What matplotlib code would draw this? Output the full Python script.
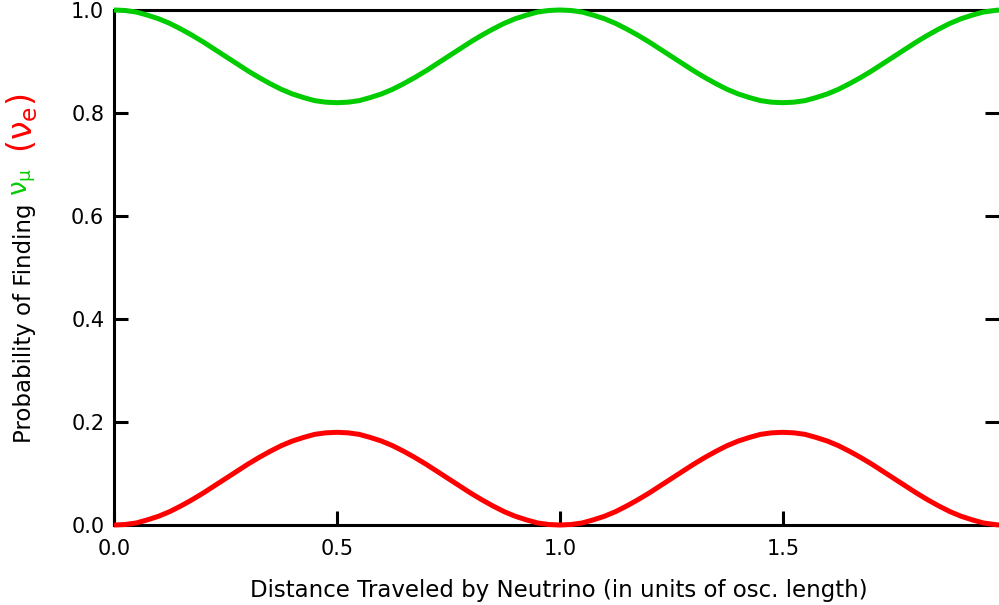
import matplotlib
matplotlib.use("Agg")
import matplotlib.pyplot as plt

# Distance travelled (units of oscillation length), sampled every 0.025
distance = [0.000, 0.025, 0.050, 0.075, 0.100, 0.125, 0.150, 0.175, 0.200, 0.225,
            0.250, 0.275, 0.300, 0.325, 0.350, 0.375, 0.400, 0.425, 0.450, 0.475,
            0.500, 0.525, 0.550, 0.575, 0.600, 0.625, 0.650, 0.675, 0.700, 0.725,
            0.750, 0.775, 0.800, 0.825, 0.850, 0.875, 0.900, 0.925, 0.950, 0.975,
            1.000, 1.025, 1.050, 1.075, 1.100, 1.125, 1.150, 1.175, 1.200, 1.225,
            1.250, 1.275, 1.300, 1.325, 1.350, 1.375, 1.400, 1.425, 1.450, 1.475,
            1.500, 1.525, 1.550, 1.575, 1.600, 1.625, 1.650, 1.675, 1.700, 1.725,
            1.750, 1.775, 1.800, 1.825, 1.850, 1.875, 1.900, 1.925, 1.950, 1.975, 1.985]
# probability of finding nu_e (red curve)
prob_e = [0.000, 0.001, 0.004, 0.010, 0.017, 0.026, 0.037, 0.049, 0.062, 0.076,
          0.090, 0.104, 0.118, 0.131, 0.143, 0.154, 0.163, 0.170, 0.176, 0.179,
          0.180, 0.179, 0.176, 0.170, 0.163, 0.154, 0.143, 0.131, 0.118, 0.104,
          0.090, 0.076, 0.062, 0.049, 0.037, 0.026, 0.017, 0.010, 0.004, 0.001,
          0.000, 0.001, 0.004, 0.010, 0.017, 0.026, 0.037, 0.049, 0.062, 0.076,
          0.090, 0.104, 0.118, 0.131, 0.143, 0.154, 0.163, 0.170, 0.176, 0.179,
          0.180, 0.179, 0.176, 0.170, 0.163, 0.154, 0.143, 0.131, 0.118, 0.104,
          0.090, 0.076, 0.062, 0.049, 0.037, 0.026, 0.017, 0.010, 0.004, 0.001, 0.000]
# probability of finding nu_mu (green curve)
prob_mu = [1.000, 0.999, 0.996, 0.990, 0.983, 0.974, 0.963, 0.951, 0.938, 0.924,
           0.910, 0.896, 0.882, 0.869, 0.857, 0.846, 0.837, 0.830, 0.824, 0.821,
           0.820, 0.821, 0.824, 0.830, 0.837, 0.846, 0.857, 0.869, 0.882, 0.896,
           0.910, 0.924, 0.938, 0.951, 0.963, 0.974, 0.983, 0.990, 0.996, 0.999,
           1.000, 0.999, 0.996, 0.990, 0.983, 0.974, 0.963, 0.951, 0.938, 0.924,
           0.910, 0.896, 0.882, 0.869, 0.857, 0.846, 0.837, 0.830, 0.824, 0.821,
           0.820, 0.821, 0.824, 0.830, 0.837, 0.846, 0.857, 0.869, 0.882, 0.896,
           0.910, 0.924, 0.938, 0.951, 0.963, 0.974, 0.983, 0.990, 0.996, 0.999, 1.000]

x_ticks = [0.0, 0.5, 1.0, 1.5]
x_ticklabels = ["0.0", "0.5", "1.0", "1.5"]
y_ticks = [0.0, 0.2, 0.4, 0.6, 0.8, 1.0]
y_ticklabels = ["0.0", "0.2", "0.4", "0.6", "0.8", "1.0"]

GREEN = "#00CC00"
RED = "#FF0000"

plt.rcParams["font.family"] = ["DejaVu Sans"]
plt.rcParams["mathtext.fontset"] = "dejavusans"

fig = plt.figure(figsize=(9.99, 6.05), dpi=100)
ax = fig.add_axes([0.1141, 0.1322, 0.8859, 0.8513])

ax.plot(distance, prob_mu, color=GREEN, lw=3.6, solid_capstyle="butt",
        solid_joinstyle="round", clip_on=False, zorder=3)
ax.plot(distance, prob_e, color=RED, lw=3.6, solid_capstyle="butt",
        solid_joinstyle="round", clip_on=False, zorder=3)

ax.set_xlim(0, 1.985)
ax.set_ylim(0, 1.0)

for side in ["left", "bottom", "top"]:
    ax.spines[side].set_linewidth(2.2)
    ax.spines[side].set_color("black")
ax.spines["right"].set_visible(False)

ax.set_xticks(x_ticks)
ax.set_xticklabels(x_ticklabels)
ax.set_yticks(y_ticks)
ax.set_yticklabels(y_ticklabels)
ax.tick_params(axis="x", direction="in", length=10, width=2.2, labelsize=15, pad=10,
               top=False)
ax.tick_params(axis="y", direction="in", length=10, width=2.2, labelsize=15, pad=7,
               right=True)

W, H = fig.get_size_inches() * fig.dpi

fig.text(559 / W, (605 - 597) / H,
         "Distance Traveled by Neutrino (in units of osc. length)",
         fontsize=16.5, ha="center", va="baseline")

# composite, multi-coloured y label
fig.canvas.draw()
renderer = fig.canvas.get_renderer()
x_base = 30.5 / W
y_cur = (605 - 443) / H
pieces = [("Probability of Finding ", "black", 16.5, 30.5),
          (r"$\mathregular{\nu_{\mu}}$", GREEN, 19, 27.0),
          ("  ", RED, 16.5, 30.5),
          (r"$\mathregular{(\nu_{e})}$", RED, 24, 32.0)]
for txt, col, fs, xb in pieces:
    t = fig.text(xb / W, y_cur, txt, rotation=90, rotation_mode="anchor",
                 ha="left", va="baseline", color=col, fontsize=fs)
    bb = t.get_window_extent(renderer)
    y_cur = bb.y1 / H

fig.savefig("out.png", dpi=100)
